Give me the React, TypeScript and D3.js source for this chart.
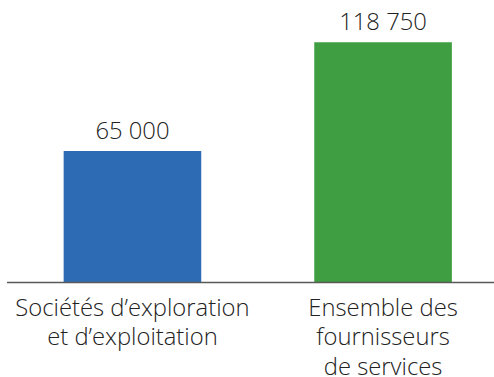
import React from "react";
import * as d3 from "d3";

const categories = [
  ["Sociétés d’exploration", "et d’exploitation"],
  ["Ensemble des", "fournisseurs", "de services"],
];
const keys = ["a", "b"];
const values = [65000, 118750];
const valueLabels = ["65 000", "118 750"];
const colors = ["#2E6BB5", "#3E9E41"];

const W = 494;
const H = 377;
const baseY = 282.5;

export default function App() {
  const x = d3.scaleBand<string>().domain(keys).range([7, 508.5]).paddingInner(0.451).paddingOuter(0.226);
  const y = d3.scaleLinear().domain([0, 65000]).range([baseY, 151]);
  const font = "'Open Sans', 'Segoe UI', sans-serif";
  return (
    <svg width={W} height={H} style={{ position: "absolute", left: 0, top: 0 }}>
      {keys.map((k, i) => {
        const x0 = x(k)!;
        const bw = x.bandwidth();
        const cx = x0 + bw / 2;
        return (
          <g key={k}>
            <rect x={x0} y={y(values[i])} width={bw} height={baseY - y(values[i])} fill={colors[i]} />
            <text x={cx} y={y(values[i]) - 12} textAnchor="middle" fontFamily={font} fontWeight={300} fontSize={23.8} fill="#222">
              {valueLabels[i]}
            </text>
            {categories[i].map((line, j) => (
              <text key={j} x={cx} y={315.5 + j * 29.7} textAnchor="middle" fontFamily={font} fontWeight={300} fontSize={23.8} fill="#222">
                {line}
              </text>
            ))}
          </g>
        );
      })}
      <line x1={7} x2={W} y1={baseY} y2={baseY} stroke="#595959" strokeWidth={1.5} />
    </svg>
  );
}
